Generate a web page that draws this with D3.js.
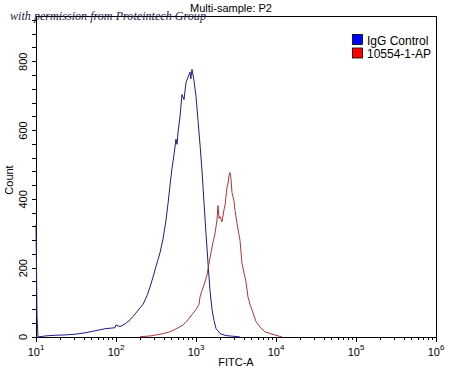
<!DOCTYPE html>
<html><head><meta charset="utf-8">
<script src="https://cdn.jsdelivr.net/npm/d3@7/dist/d3.min.js"></script>
<style>body{margin:0;background:#fff}svg{display:block}</style>
</head><body>
<svg id="c" width="450" height="370"></svg>
<script>
const title = "Multi-sample: P2";
const watermark = "with permission from Proteintech Group";
const xLabel = "FITC-A";
const yLabel = "Count";
const seriesNames = ["IgG Control", "10554-1-AP"];
const seriesColors = ["#1c1c8c", "#b0343a"];
const legendColors = ["#0000ff", "#ff0000"];
const xDomain = [10, 1e6];
const yDomain = [0, 933];
const yTicks = [0, 200, 400, 600, 800];
const xTickExps = [1, 2, 3, 4, 5, 6];

const blueX = [10, 10.3, 10.6, 13, 17.3, 23, 30.7, 41, 54.7, 72.9, 97.2, 100, 112, 130, 150, 163, 178, 200, 218, 244, 266, 290, 316, 335, 355, 387, 422, 447, 473, 501, 531, 562, 579, 596, 631, 668, 708, 750, 794, 841, 861, 891, 944, 1000, 1059, 1122, 1189, 1259, 1334, 1413, 1496, 1585, 1679, 1778, 1995, 2371, 2985, 3548];
const blueY = [325, 60, 0, 3, 5, 6, 8, 12, 18, 24, 27, 35, 30, 38, 50, 60, 70, 85, 95, 120, 145, 174, 205, 225, 245, 285, 340, 388, 440, 490, 530, 575, 560, 595, 640, 705, 690, 740, 755, 770, 750, 778, 745, 700, 630, 560, 484, 390, 300, 215, 135, 80, 48, 25, 10, 4, 2, 0];

const redX = [200, 266, 355, 473, 579, 688, 794, 891, 1000, 1090, 1122, 1189, 1296, 1372, 1454, 1540, 1631, 1728, 1830, 1884, 1939, 1995, 2113, 2239, 2305, 2440, 2512, 2585, 2661, 2738, 2818, 2985, 3073, 3257, 3548, 3758, 4217, 4467, 4732, 5160, 5623, 6310, 7290, 8414, 10000, 11900];
const redY = [1, 3, 8, 15, 25, 35, 50, 65, 80, 95, 116, 135, 160, 180, 215, 245, 275, 300, 340, 382, 345, 350, 335, 370, 382, 435, 445, 470, 478, 460, 420, 395, 368, 330, 281, 214, 160, 116, 95, 70, 45, 29, 15, 10, 5, 0];

const svg = d3.select("#c");
const m = {l: 36, r: 436, t: 16, b: 337};
const x = d3.scaleLog().domain(xDomain).range([m.l, m.r]);
const y = d3.scaleLinear().domain(yDomain).range([m.b, m.t]);
const font = "Arial, 'Liberation Sans', sans-serif";

// title
svg.append("text").attr("x", 231).attr("y", 12).attr("text-anchor", "middle")
  .attr("font-family", font).attr("font-size", 11).attr("fill", "#000").text(title);

// plot frame
svg.append("rect").attr("x", m.l).attr("y", m.t).attr("width", m.r - m.l).attr("height", m.b - m.t)
  .attr("fill", "none").attr("stroke", "#000").attr("stroke-width", 1).attr("shape-rendering", "crispEdges");

// curves
const line = d3.line().x(d => x(d[0])).y(d => y(d[1]));
const series = [d3.zip(blueX, blueY), d3.zip(redX, redY)];
series.forEach((s, i) => {
  svg.append("path").datum(s).attr("d", line).attr("fill", "none")
    .attr("stroke", seriesColors[i]).attr("stroke-width", 1);
});

// x axis ticks
const xAxisG = svg.append("g").attr("transform", `translate(0,${m.b})`);
const minor = [];
for (let e = 1; e < 6; e++) for (let k = 2; k <= 9; k++) minor.push(k * Math.pow(10, e));
xAxisG.selectAll("line.mn").data(minor).enter().append("line")
  .attr("x1", d => x(d)).attr("x2", d => x(d)).attr("y1", 0).attr("y2", 3)
  .attr("stroke", "#000").attr("shape-rendering", "crispEdges");
xAxisG.selectAll("line.mj").data(xTickExps).enter().append("line")
  .attr("x1", d => x(Math.pow(10, d))).attr("x2", d => x(Math.pow(10, d))).attr("y1", 0).attr("y2", 5)
  .attr("stroke", "#000").attr("shape-rendering", "crispEdges");
const xl = xAxisG.selectAll("text").data(xTickExps).enter().append("text")
  .attr("x", d => x(Math.pow(10, d))).attr("y", 19).attr("text-anchor", "middle")
  .attr("font-family", font).attr("font-size", 11);
xl.append("tspan").text("10");
xl.append("tspan").attr("dy", -6).attr("font-size", 8).text(d => d);

// y axis ticks
const yAxisG = svg.append("g").attr("transform", `translate(${m.l},0)`);
const yMinor = d3.range(0, 933, 40);
yAxisG.selectAll("line").data(yMinor).enter().append("line")
  .attr("x1", -4).attr("x2", 0).attr("y1", d => y(d)).attr("y2", d => y(d))
  .attr("stroke", "#000").attr("shape-rendering", "crispEdges");
yAxisG.selectAll("text").data(yTicks).enter().append("text")
  .attr("transform", d => `translate(-9,${y(d)}) rotate(-90)`)
  .attr("text-anchor", "middle").attr("font-family", font).attr("font-size", 11).text(d => d);

// axis labels
svg.append("text").attr("x", 236).attr("y", 366).attr("text-anchor", "middle")
  .attr("font-family", font).attr("font-size", 11).text(xLabel);
svg.append("text").attr("transform", "translate(13,180) rotate(-90)").attr("text-anchor", "middle")
  .attr("font-family", font).attr("font-size", 11).text(yLabel);

// legend
const lg = svg.append("g");
seriesNames.forEach((n, i) => {
  lg.append("rect").attr("x", 352.5).attr("y", 34.5 + i * 13.5).attr("width", 10).attr("height", 10)
    .attr("fill", legendColors[i]).attr("stroke", "#000").attr("stroke-width", 0.8);
  lg.append("text").attr("x", 367).attr("y", 44.5 + i * 13.5).attr("font-family", font)
    .attr("font-size", 12).text(n);
});

// watermark
svg.append("text").attr("x", 10).attr("y", 20).attr("font-family", "'Liberation Serif', 'DejaVu Serif', serif")
  .attr("font-style", "italic").attr("font-size", 13).attr("fill", "#1d1d4a")
  .attr("textLength", 196).attr("lengthAdjust", "spacingAndGlyphs").text(watermark);
</script>
</body></html>
